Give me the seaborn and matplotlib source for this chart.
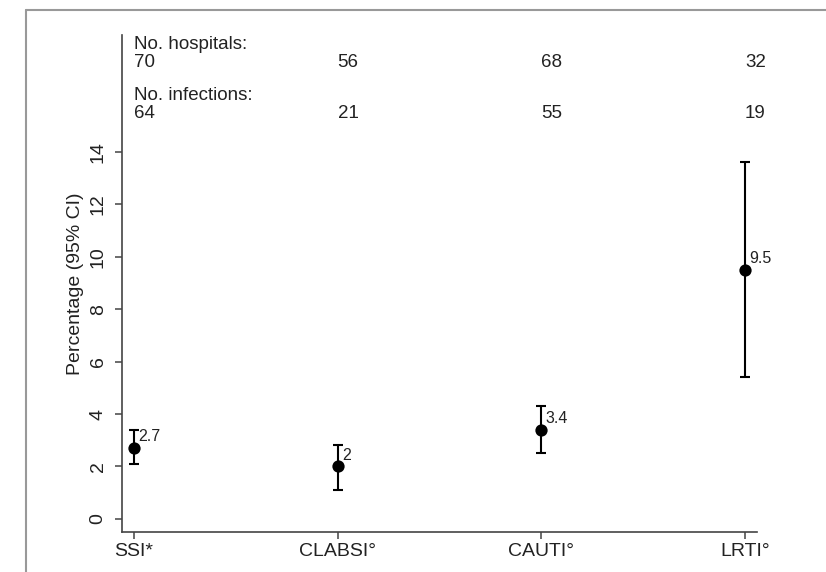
import numpy as np
import pandas as pd
import matplotlib
matplotlib.use("Agg")
import matplotlib.pyplot as plt
from matplotlib.lines import Line2D
import seaborn as sns

categories = ["SSI*", "CLABSI°", "CAUTI°", "LRTI°"]
percent = [2.7, 2.0, 3.4, 9.5]
ci_low = [2.1, 1.1, 2.5, 5.4]
ci_high = [3.4, 2.8, 4.3, 13.6]
n_hospitals = [70, 56, 68, 32]
n_infections = [64, 21, 55, 19]
value_labels = ["2.7", "2", "3.4", "9.5"]
yticks = [0, 2, 4, 6, 8, 10, 12, 14]

sns.set_theme(style="white")
plt.rcParams["font.family"] = ["Liberation Sans", "DejaVu Sans"]

df = pd.DataFrame({"pos": np.arange(len(categories)), "pct": percent,
                   "lo": ci_low, "hi": ci_high})

fig = plt.figure(figsize=(8.26, 5.72), dpi=100)
ax = fig.add_axes([122/826, 1 - 532/572, (757-122)/826, (532-35)/572])

yerr = np.array([df["pct"] - df["lo"], df["hi"] - df["pct"]])
ax.errorbar(df["pos"], df["pct"], yerr=yerr, fmt="none", ecolor="black",
            elinewidth=1.5, capsize=3.4, capthick=1.5, zorder=2)
sns.scatterplot(data=df, x="pos", y="pct", ax=ax, color="black", s=78,
                edgecolor="black", linewidth=0, zorder=3, legend=False)

for i, lab in enumerate(value_labels):
    ax.annotate(lab, (i, percent[i]), xytext=(3, 5), textcoords="offset points",
                ha="left", va="baseline", fontsize=11.5, color="#222222")

# header texts
for i in range(len(categories)):
    ax.text(i, 17.24, str(n_hospitals[i]), ha="left", va="baseline", fontsize=13.5, color="#222222")
    ax.text(i, 15.30, str(n_infections[i]), ha="left", va="baseline", fontsize=13.5, color="#222222")
ax.text(0, 17.93, "No. hospitals:", ha="left", va="baseline", fontsize=13.5, color="#222222")
ax.text(0, 15.98, "No. infections:", ha="left", va="baseline", fontsize=13.5, color="#222222")

ax.set_xlim(-0.059, 3.059)
ax.set_ylim(-0.5, 18.46)
ax.set_xticks(range(len(categories)))
ax.set_xticklabels(categories, fontsize=14, color="#222222")
ax.set_yticks(yticks)
ax.set_yticklabels([str(t) for t in yticks], fontsize=14, color="#222222",
                   rotation=90, va="center")
ax.set_xlabel("")
ax.set_ylabel("Percentage (95% CI)", fontsize=14, color="#222222", labelpad=4)

for s in ["top", "right"]:
    ax.spines[s].set_visible(False)
for s in ["left", "bottom"]:
    ax.spines[s].set_color("#444444")
    ax.spines[s].set_linewidth(1.2)
ax.tick_params(axis="both", direction="out", length=5, width=1.1, color="#444444",
               left=True, bottom=True)
ax.tick_params(axis="y", pad=6)
ax.tick_params(axis="x", pad=3)
ax.grid(False)

# outer frame lines (partially cropped border)
fig.add_artist(Line2D([26/826, 1.0], [1 - 10/572, 1 - 10/572], transform=fig.transFigure,
                      color="#999999", lw=1.5))
fig.add_artist(Line2D([26/826, 26/826], [0, 1 - 10/572], transform=fig.transFigure,
                      color="#999999", lw=1.5))

fig.savefig("out.png", dpi=100)
